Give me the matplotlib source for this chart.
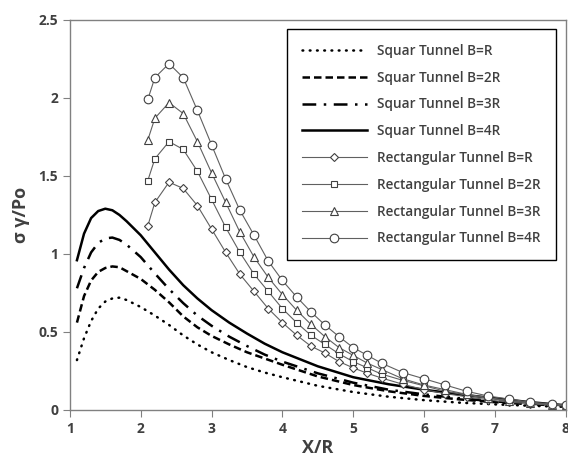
import matplotlib
matplotlib.use('Agg')
import matplotlib.pyplot as plt

plt.rcParams['font.family'] = ['Open Sans', 'DejaVu Sans']

# square tunnel curves
x_sq = [1.1, 1.2, 1.3, 1.4, 1.5, 1.6, 1.7, 1.8, 2.0, 2.2, 2.4, 2.6, 2.8, 3.0,
        3.25, 3.5, 3.75, 4.0, 4.5, 5.0, 5.5, 6.0, 6.5, 7.0, 7.5, 8.0]
sq_1r = [0.32, 0.46, 0.57, 0.65, 0.695, 0.715, 0.72, 0.705, 0.66, 0.605, 0.545, 0.478, 0.42, 0.37,
         0.32, 0.275, 0.24, 0.21, 0.155, 0.115, 0.085, 0.063, 0.047, 0.036, 0.027, 0.02]
sq_2r = [0.56, 0.73, 0.83, 0.885, 0.91, 0.92, 0.915, 0.89, 0.84, 0.77, 0.69, 0.60, 0.53, 0.475,
         0.42, 0.37, 0.33, 0.29, 0.215, 0.16, 0.12, 0.09, 0.068, 0.05, 0.037, 0.027]
sq_3r = [0.78, 0.91, 1.01, 1.07, 1.10, 1.105, 1.09, 1.06, 0.98, 0.875, 0.775, 0.685, 0.605, 0.54,
         0.47, 0.41, 0.355, 0.31, 0.235, 0.175, 0.13, 0.10, 0.075, 0.055, 0.04, 0.03]
sq_4r = [0.96, 1.13, 1.23, 1.275, 1.29, 1.28, 1.25, 1.21, 1.12, 1.01, 0.90, 0.80, 0.715, 0.64,
         0.56, 0.49, 0.425, 0.37, 0.28, 0.21, 0.165, 0.13, 0.10, 0.075, 0.05, 0.03]

# rectangular tunnel points
x_rect = [2.1, 2.2, 2.4, 2.6, 2.8, 3.0, 3.2, 3.4, 3.6, 3.8, 4.0, 4.2, 4.4, 4.6,
          4.8, 5.0, 5.2, 5.4, 5.7, 6.0, 6.3, 6.6, 6.9, 7.2, 7.5, 7.8, 8.0]
rect_1r = [1.18, 1.33, 1.46, 1.42, 1.31, 1.16, 1.01, 0.87, 0.76, 0.65, 0.56, 0.48, 0.41, 0.365,
           0.31, 0.27, 0.235, 0.205, 0.165, 0.13, 0.105, 0.085, 0.065, 0.05, 0.04, 0.03, 0.025]
rect_2r = [1.47, 1.61, 1.72, 1.67, 1.53, 1.35, 1.17, 1.01, 0.87, 0.76, 0.65, 0.56, 0.48, 0.42,
           0.36, 0.31, 0.27, 0.23, 0.19, 0.155, 0.12, 0.095, 0.075, 0.06, 0.045, 0.035, 0.03]
rect_3r = [1.73, 1.87, 1.97, 1.90, 1.72, 1.52, 1.33, 1.14, 0.98, 0.85, 0.74, 0.64, 0.55, 0.47,
           0.40, 0.35, 0.30, 0.26, 0.20, 0.16, 0.13, 0.10, 0.08, 0.06, 0.045, 0.035, 0.03]
rect_4r = [1.99, 2.13, 2.22, 2.13, 1.92, 1.70, 1.48, 1.28, 1.12, 0.955, 0.83, 0.725, 0.63, 0.545,
           0.47, 0.40, 0.35, 0.30, 0.24, 0.20, 0.16, 0.12, 0.09, 0.07, 0.05, 0.04, 0.03]

x_ticks = [1, 2, 3, 4, 5, 6, 7, 8]
y_ticks = [0, 0.5, 1, 1.5, 2, 2.5]
y_ticklabels = ['0', '0.5', '1', '1.5', '2', '2.5']

fig = plt.figure(figsize=(5.68, 4.63), dpi=100)
ax = fig.add_axes([0.123, 0.1145, 0.873, 0.8425])

lw = 1.8
ax.plot(x_sq, sq_1r, color='black', lw=lw, linestyle=(0, (0.3, 2.6)),
        dash_capstyle='round', label='Squar Tunnel B=R')
ax.plot(x_sq, sq_2r, color='black', lw=lw, linestyle=(0, (3, 1.6)),
        label='Squar Tunnel B=2R')
ax.plot(x_sq, sq_3r, color='black', lw=lw, linestyle=(0, (5.5, 3, 1, 3)),
        label='Squar Tunnel B=3R')
ax.plot(x_sq, sq_4r, color='black', lw=lw, label='Squar Tunnel B=4R')

rect_series = [(rect_1r, 'D', 4, 'Rectangular Tunnel B=R'),
               (rect_2r, 's', 4, 'Rectangular Tunnel B=2R'),
               (rect_3r, '^', 5.5, 'Rectangular Tunnel B=3R'),
               (rect_4r, 'o', 6.2, 'Rectangular Tunnel B=4R')]
for ys, m, ms, lab in rect_series:
    ax.plot(x_rect, ys, color='#606060', lw=0.8, marker=m, markersize=ms,
            markerfacecolor='white', markeredgecolor='#404040', markeredgewidth=0.8,
            label=lab)

ax.set_xlim(1, 8)
ax.set_ylim(0, 2.5)
ax.set_xticks(x_ticks)
ax.set_yticks(y_ticks)
ax.set_yticklabels(y_ticklabels)
for sp in ax.spines.values():
    sp.set_color('#808080')
    sp.set_linewidth(1)
ax.tick_params(direction='out', length=5, color='#808080', labelsize=10,
               labelcolor='#404040')
for t in ax.get_xticklabels() + ax.get_yticklabels():
    t.set_fontweight('bold')

ax.set_xlabel('X/R', fontsize=13, fontweight='bold', color='#404040', labelpad=2)
ax.set_ylabel('σ γ/Po', fontsize=13, fontweight='bold', color='#404040', labelpad=6)

leg = ax.legend(loc='upper right', bbox_to_anchor=(0.98, 0.977), borderaxespad=0,
                fancybox=False, framealpha=1, edgecolor='black',
                prop={'family': 'Open Sans', 'weight': 'semibold', 'size': 9.8},
                handlelength=4.8, handletextpad=0.75, labelspacing=0.94,
                borderpad=1.1)
leg.get_frame().set_linewidth(1)
for t in leg.get_texts():
    t.set_color('#404040')

fig.savefig('out.png', dpi=100)
